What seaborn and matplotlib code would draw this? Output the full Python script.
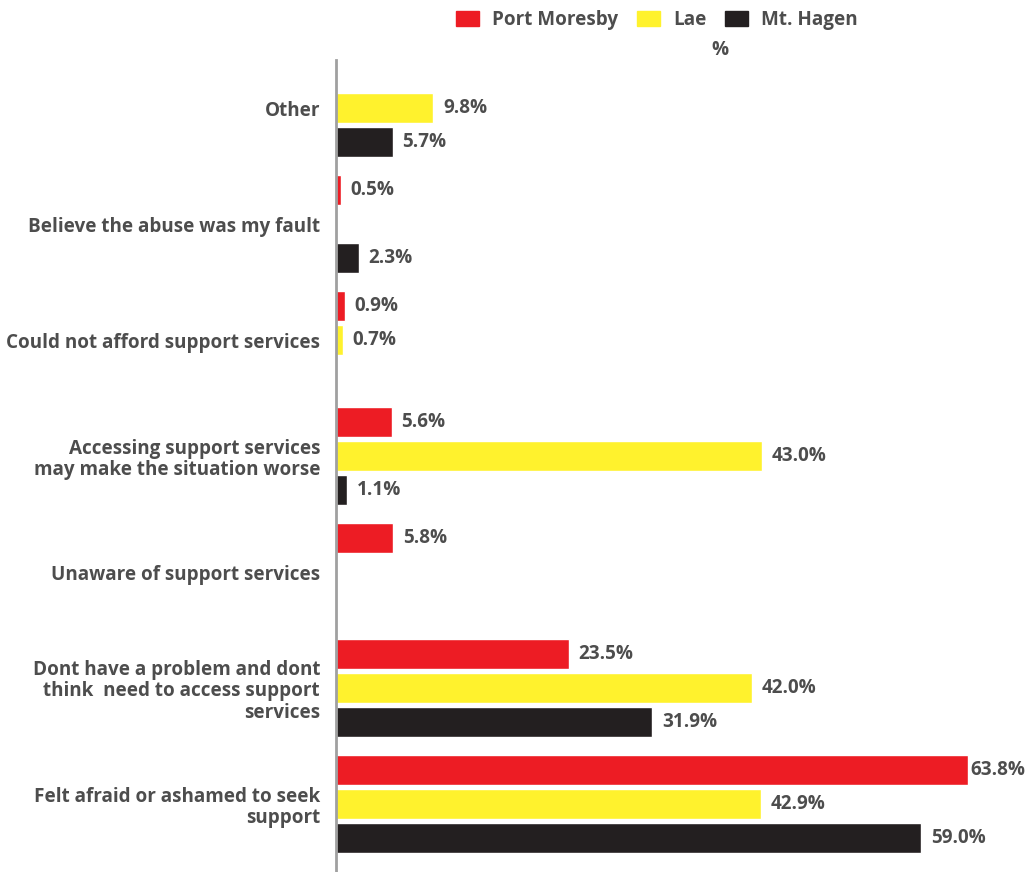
import numpy as np
import pandas as pd
import matplotlib
matplotlib.use("Agg")
import matplotlib.pyplot as plt
import seaborn as sns

# Data (% of respondents)
categories = [
    "Other",
    "Believe the abuse was my fault",
    "Could not afford support services",
    "Accessing support services\nmay make the situation worse",
    "Unaware of support services",
    "Dont have a problem and dont\nthink  need to access support\nservices",
    "Felt afraid or ashamed to seek\nsupport",
]
cities = ["Port Moresby", "Lae", "Mt. Hagen"]
port_moresby = [np.nan, 0.5, 0.9, 5.6, 5.8, 23.5, 63.8]
lae = [9.8, np.nan, 0.7, 43.0, np.nan, 42.0, 42.9]
mt_hagen = [5.7, 2.3, np.nan, 1.1, np.nan, 31.9, 59.0]
colors = ["#ED1C24", "#FFF22D", "#231F20"]

df = pd.DataFrame({
    "category": categories * 3,
    "city": np.repeat(cities, len(categories)),
    "value": port_moresby + lae + mt_hagen,
})

sns.set_theme(style="white")
plt.rcParams["font.family"] = ["Open Sans", "DejaVu Sans"]
plt.rcParams["font.weight"] = "bold"
text_color = "#4D4D4D"
fs = 13.6

fig = plt.figure(figsize=(10.25, 8.72), dpi=100)
ax = fig.add_axes([336 / 1025, 0, 1 - 336 / 1025, 1 - 60 / 872])

sns.barplot(data=df, y="category", x="value", hue="city", orient="h",
            order=categories, hue_order=cities, palette=colors,
            width=0.88, gap=0.12, saturation=1, ax=ax)

# value labels at end of each bar
for cont in ax.containers:
    for bar in cont:
        w = bar.get_width()
        if np.isnan(w) or w == 0:
            continue
        pad = 1.0 if w > 60 else 7
        ax.annotate(f"{w:.1f}%", (w, bar.get_y() + bar.get_height() / 2),
                    xytext=(pad, 0), textcoords="offset points",
                    ha="left", va="center", fontsize=fs, fontweight="bold",
                    color=text_color)

ax.set_xlim(0, 69.5)
ax.set_ylim(6.586, -0.414)
ax.set_ylabel("")
ax.set_xlabel("")
ax.set_xticks([])
ax.tick_params(axis="y", length=0, pad=11.5, labelsize=fs, labelcolor=text_color)
for lbl in ax.get_yticklabels():
    lbl.set_fontweight("bold")
    lbl.set_linespacing(1.12)

for s in ["top", "right", "bottom"]:
    ax.spines[s].set_visible(False)
ax.spines["left"].set_color("#A0A0A0")
ax.spines["left"].set_linewidth(2)

ax.legend_.remove()
handles = [plt.Rectangle((0, 0), 1, 1, color=c) for c in colors]
fig.legend(handles, cities, loc="center", bbox_to_anchor=(657 / 1025, 1 - 20 / 872),
           ncol=3, frameon=False, fontsize=fs, handlelength=1.2, handleheight=0.8,
           handletextpad=0.7, columnspacing=1.0, labelcolor=text_color)
fig.text(720 / 1025, 1 - 50 / 872, "%", ha="center", va="center", fontsize=fs,
         fontweight="bold", color=text_color)

fig.savefig("out.png", dpi=100)
